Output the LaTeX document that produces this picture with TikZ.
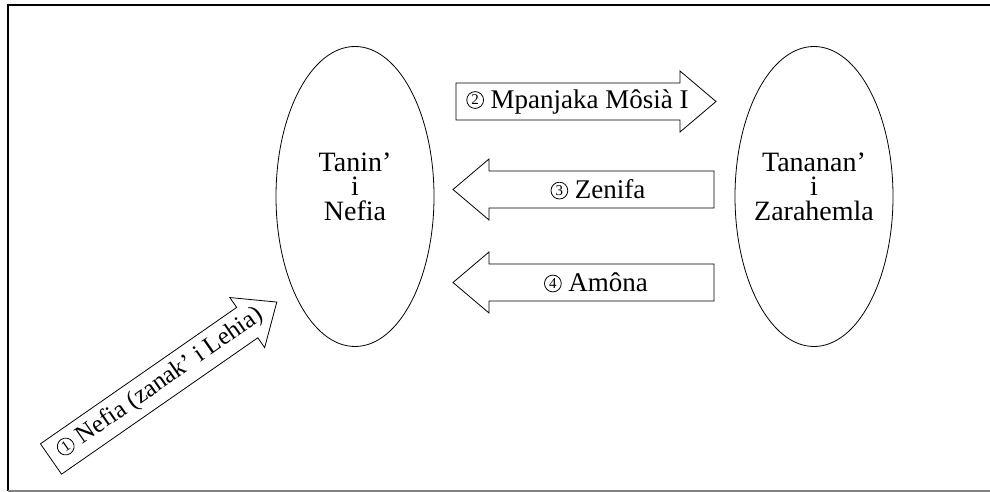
\documentclass[tikz,border=0pt]{standalone}
\usepackage{fontspec}
\setmainfont{Liberation Serif}
\usetikzlibrary{shapes.geometric}

\tikzset{
  land/.style={draw, ellipse, thin, minimum width=79pt, minimum height=150pt},
  landname/.style={align=center, inner sep=0pt, font=\fontsize{14}{12.3}\selectfont},
  trek/.style={inner sep=0pt, font=\fontsize{13.5}{16}\selectfont},
  ringnum/.style={circle, draw, thin, inner sep=0pt, minimum size=8.4pt, font=\fontsize{7.5}{8}\selectfont},
}
% block arrow: tail point, angle, length
\newcommand{\trekarrow}[3]{%
  \begin{scope}[shift={(#1)}, rotate=#2]
    \draw[thin] (0,-18.5)--(#3-36,-18.5)--(#3-36,-30.5)--(#3,0)--(#3-36,30.5)--(#3-36,18.5)--(0,18.5)--cycle;
  \end{scope}}
% circled step number
\newcommand{\num}[1]{\tikz[baseline={([yshift=0.4pt]ring.south)}]\node[ringnum] (ring) {#1};}

\begin{document}
\begin{tikzpicture}[x=0.5pt, y=0.5pt]
    \useasboundingbox (0,0) rectangle (990,492);
    \draw[line width=0.8pt] (995,487)--(8,487)--(8,1);
    \draw[line width=0.8pt, black!50] (8,1)--(995,1);

    \node[land] (nefia) at (355,295.5) {};
    \node[land] (zarahemla) at (814,295.5) {};
    \node[landname] (nefianame) at ([yshift=5pt]nefia.center) {Tanin’\\i\\Nefia};
    \node[landname] (zarahemlaname) at ([yshift=5pt]zarahemla.center) {Tananan’\\i\\Zarahemla};

    \trekarrow{51,33}{34.8}{275}
    \trekarrow{456,390.5}{0}{260}
    \trekarrow{714,302.5}{180}{261}
    \trekarrow{714,209.5}{180}{261}

    \node[trek, rotate=34.8, font=\fontsize{12.5}{15}\selectfont] (lehi) at (160.2,108.9) {\num{1} Nefia (zanak’ i Lehia)};
    \node[trek] (mosia) at (577.5,390.5) {\num{2} Mpanjaka Môsià I};
    \node[trek] (zenifa) at (598,302.5) {\num{3} Zenifa};
    \node[trek] (amona) at (596,209.5) {\num{4} Amôna};
  \end{tikzpicture}
\end{document}
